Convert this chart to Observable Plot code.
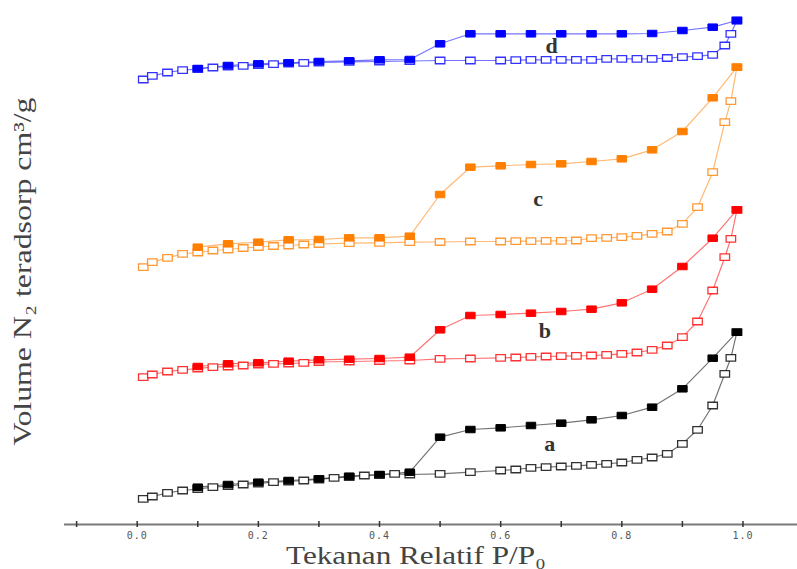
<!DOCTYPE html>
<html>
<head>
<meta charset="utf-8">
<script src="https://cdn.jsdelivr.net/npm/d3@7"></script>
<script src="https://cdn.jsdelivr.net/npm/@observablehq/plot@0.6"></script>
<style>
  html, body { margin: 0; padding: 0; background: #fff; }
  #chart svg { display: block; }
</style>
</head>
<body>
<div id="chart"></div>
<script>
// ---- data (relative pressure P/P0 and adsorbed volume, arbitrary units) ----
const adsP = [0.01, 0.025, 0.05, 0.075, 0.1, 0.125, 0.15, 0.175, 0.2, 0.225, 0.25, 0.275, 0.3, 0.35, 0.4, 0.45, 0.5, 0.55, 0.6, 0.625, 0.65, 0.675, 0.7, 0.725, 0.75, 0.775, 0.8, 0.825, 0.85, 0.875, 0.9, 0.925, 0.95, 0.97, 0.98, 0.99];
const adsPa = [0.01, 0.025, 0.05, 0.075, 0.1, 0.125, 0.15, 0.175, 0.2, 0.225, 0.25, 0.275, 0.3, 0.325, 0.35, 0.375, 0.4, 0.425, 0.45, 0.5, 0.55, 0.6, 0.625, 0.65, 0.675, 0.7, 0.725, 0.75, 0.775, 0.8, 0.825, 0.85, 0.875, 0.9, 0.925, 0.95, 0.97, 0.98, 0.99];
const desP = [0.1, 0.15, 0.2, 0.25, 0.3, 0.35, 0.4, 0.45, 0.5, 0.55, 0.6, 0.65, 0.7, 0.75, 0.8, 0.85, 0.9, 0.95, 0.99];

// sample a (black)
const adsA = [25.7, 28, 31.7, 34, 35.5, 37.3, 38.5, 40, 41, 42.3, 43, 44, 45, 46.7, 47.5, 49, 49.5, 50.7, 50, 50.7, 52.3, 54, 55, 56.7, 57.3, 58, 58.7, 59.7, 60.7, 62, 64.7, 67, 70.7, 80.7, 94.7, 119, 150.7, 166.7, 192.3];
const desA = [37.3, 40, 42.3, 44, 45.7, 48.3, 50, 52.3, 87.3, 95, 96.7, 99, 101.3, 104.7, 109, 117.3, 135.7, 166.3, 192.3];
// sample b (red)
const adsB = [147.3, 150, 153, 154.7, 156, 157.3, 158, 159, 160, 160.7, 161, 161.7, 162.5, 163, 163.5, 164, 165.7, 166, 166.7, 167, 167.7, 168, 168.3, 168.7, 169, 169.7, 170.7, 172, 174.7, 179, 187.3, 203, 234, 267.3, 285.7, 314.7];
const desB = [158, 160.7, 161.7, 163.3, 164.7, 165.3, 166, 167.3, 194.7, 209, 210, 211.3, 213, 215.3, 221.7, 235.3, 258, 286.3, 314.7];
// sample c (orange)
const adsC = [257.3, 262.3, 266.7, 270.7, 272, 274, 275, 276.5, 277.5, 278.5, 279, 280, 280.5, 281.3, 281.7, 282.3, 282.5, 283, 283, 283.3, 283.3, 283.7, 283.7, 284, 286.3, 286.7, 287.3, 288.7, 290.7, 293, 300.7, 317.3, 352.3, 402.3, 423.3, 457.3];
const desC = [277.3, 280.7, 282.3, 284.7, 285, 286.7, 286.7, 288.3, 330, 357.3, 358.7, 360, 360.7, 363, 365.7, 374.7, 393, 426.7, 457.3];
// sample d (blue)
const adsD = [445, 448.7, 452, 454.3, 455.5, 457, 458, 458.7, 459.5, 460.3, 461, 461.7, 462, 462.7, 463, 463.5, 464, 464, 464, 464.3, 464.7, 464.7, 464.7, 464.7, 464.7, 465.7, 465.7, 465.7, 465.7, 466.5, 467.3, 468.3, 469.7, 479, 490.7, 504];
const desD = [456, 459, 460.7, 461.7, 463, 463.7, 464.7, 465, 480.7, 490.7, 490.7, 490.7, 490.7, 490.7, 490.7, 491, 494, 497.3, 504];

const sampleNames = ["a", "b", "c", "d"];
const sampleColors = ["#000000", "#ff0000", "#ff7f00", "#0000ff"];
const labelP = [0.681, 0.673, 0.662, 0.684];
const labelV = [81, 194, 326, 479];

const xTicks = [-0.1, 0, 0.1, 0.2, 0.3, 0.4, 0.5, 0.6, 0.7, 0.8, 0.9, 1.0];
const xTickLabels = [0, 0.2, 0.4, 0.6, 0.8, 1.0];
const xTitle = "Tekanan Relatif P/P₀";
const yTitle = "Volume N₂ teradsorp cm³/g";

// ---- build tables ----
const adsSets = [[adsPa, adsA], [adsP, adsB], [adsP, adsC], [adsP, adsD]];
const desSets = [desA, desB, desC, desD];
const ads = [], des = [];
sampleNames.forEach((s, i) => {
  const [ps, vs] = adsSets[i];
  ps.forEach((p, j) => ads.push({sample: s, color: sampleColors[i], p, v: vs[j]}));
  desP.forEach((p, j) => des.push({sample: s, color: sampleColors[i], p, v: desSets[i][j]}));
});
const labels = sampleNames.map((s, i) => ({s, p: labelP[i], v: labelV[i]}));

const rectSymbol = {
  draw(ctx) { const w = 9.5, h = 6.5; ctx.rect(-w / 2, -h / 2, w, h); }
};

const chart = Plot.plot({
  width: 797,
  height: 569,
  marginLeft: 64,
  marginRight: 0,
  marginTop: 20,
  marginBottom: 45,
  style: {fontFamily: "DejaVu Sans Mono", background: "#fff"},
  x: {domain: [-0.12, 1.09], axis: null},
  y: {domain: [0, 504], axis: null},
  marks: [
    Plot.ruleY([0], {stroke: "#7a7a7a", strokeWidth: 2}),
    Plot.ruleX(xTicks, {x: d => d, y1: -3, y2: 3, stroke: "#333", strokeWidth: 1.5}),
    Plot.axisX({ticks: xTickLabels, tickSize: 0, tickPadding: 7, tickFormat: d3.format(".1f"),
      fontSize: 10, fill: "#555", label: null}),
    Plot.line(ads, {x: "p", y: "v", z: "sample", stroke: "color", strokeWidth: 1.2, strokeOpacity: 0.55}),
    Plot.line(des, {x: "p", y: "v", z: "sample", stroke: "color", strokeWidth: 1.2, strokeOpacity: 0.55}),
    Plot.dot(ads, {x: "p", y: "v", symbol: rectSymbol, r: 3, stroke: "color", fill: "#fff", strokeWidth: 1.3, strokeOpacity: 0.8}),
    Plot.dot(des, {x: "p", y: "v", symbol: rectSymbol, r: 3, stroke: "color", fill: "color", strokeWidth: 1}),
    Plot.text(labels, {x: "p", y: "v", text: "s", fontFamily: "Liberation Serif", fontSize: 22, fill: "#333", fontWeight: "bold"}),
    Plot.text([xTitle], {frameAnchor: "bottom", textAnchor: "middle", dx: -15, dy: 39, fontFamily: "Liberation Serif", fontSize: 25, fill: "#444", className: "xtitle"}),
    Plot.text([yTitle], {frameAnchor: "left", textAnchor: "middle", rotate: -90, dx: -42, dy: -1, fontFamily: "Liberation Serif", fontSize: 25, fill: "#444", className: "ytitle"})
  ]
});
d3.select(chart).selectAll("g[aria-label='x-axis tick label'] text").attr("letter-spacing", "1px");
d3.select(chart).selectAll(".xtitle text").attr("textLength", 260).attr("lengthAdjust", "spacingAndGlyphs");
d3.select(chart).selectAll(".ytitle text").attr("textLength", 348).attr("lengthAdjust", "spacingAndGlyphs");
document.getElementById("chart").appendChild(chart);
</script>
</body>
</html>
